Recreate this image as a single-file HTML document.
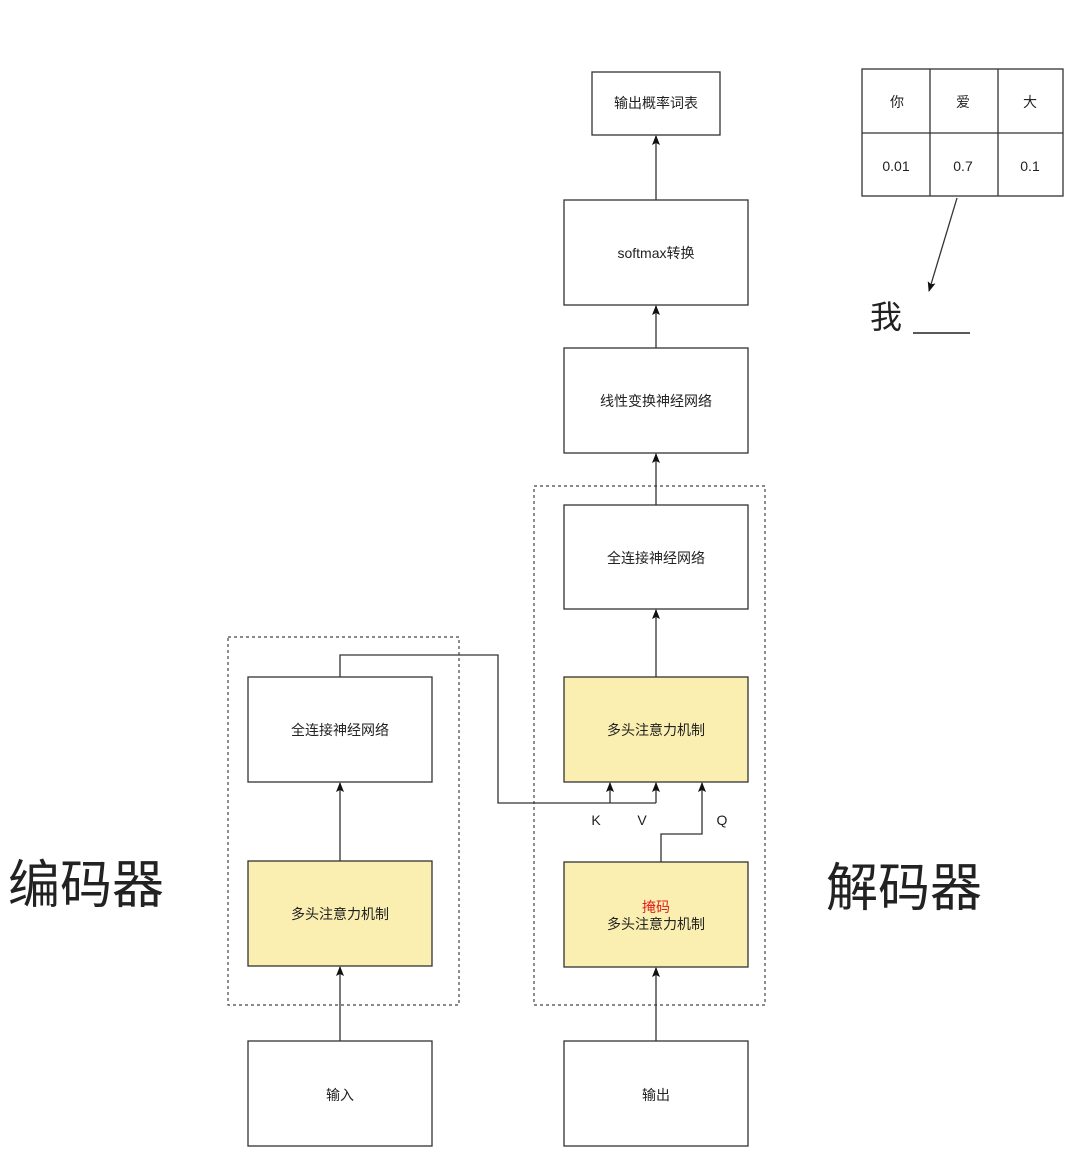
<!DOCTYPE html>
<html><head><meta charset="utf-8"><style>
html,body{margin:0;padding:0;background:#fff;}
svg text{font-family:"Liberation Sans","Noto Sans CJK SC",sans-serif;fill:#222;}
</style></head><body>
<svg width="1080" height="1166" viewBox="0 0 1080 1166" xmlns="http://www.w3.org/2000/svg">
<defs>
<marker id="b" markerWidth="10" markerHeight="10" refX="9" refY="5" orient="auto" markerUnits="userSpaceOnUse" viewBox="0 0 10 10"><path d="M0,1 L10,5 L0,9 L2,5 Z" fill="#111"/></marker></defs>
<g fill="none" stroke="#444" stroke-width="1.2" stroke-dasharray="3,3">
<rect x="228" y="637" width="231" height="368"/>
<rect x="534" y="486" width="231" height="519"/>
</g>
<g stroke="#333" stroke-width="1.3">
<rect x="592" y="72" width="128" height="63" fill="#fff"/>
<rect x="564" y="200" width="184" height="105" fill="#fff"/>
<rect x="564" y="348" width="184" height="105" fill="#fff"/>
<rect x="564" y="505" width="184" height="104" fill="#fff"/>
<rect x="564" y="677" width="184" height="105" fill="#faeeb0"/>
<rect x="564" y="862" width="184" height="105" fill="#faeeb0"/>
<rect x="564" y="1041" width="184" height="105" fill="#fff"/>
<rect x="248" y="677" width="184" height="105" fill="#fff"/>
<rect x="248" y="861" width="184" height="105" fill="#faeeb0"/>
<rect x="248" y="1041" width="184" height="105" fill="#fff"/>
</g>
<g stroke="#333" stroke-width="1.3" fill="none">
<line x1="656" y1="200" x2="656" y2="136" marker-end="url(#b)"/>
<line x1="656" y1="348" x2="656" y2="306" marker-end="url(#b)"/>
<line x1="656" y1="505" x2="656" y2="454" marker-end="url(#b)"/>
<line x1="656" y1="677" x2="656" y2="610" marker-end="url(#b)"/>
<line x1="656" y1="1041" x2="656" y2="968" marker-end="url(#b)"/>
<line x1="340" y1="861" x2="340" y2="783" marker-end="url(#b)"/>
<line x1="340" y1="1041" x2="340" y2="967" marker-end="url(#b)"/>
<polyline points="340,677 340,655 498,655 498,803 656,803"/>
<line x1="610" y1="803" x2="610" y2="783" marker-end="url(#b)"/>
<line x1="656" y1="803" x2="656" y2="783" marker-end="url(#b)"/>
<polyline points="661,862 661,834 702,834 702,783" marker-end="url(#b)"/>
<line x1="957" y1="198" x2="929" y2="291" marker-end="url(#b)"/>
</g>
<g font-size="14" text-anchor="middle">
<text x="656" y="108">输出概率词表</text>
<text x="656" y="258">softmax转换</text>
<text x="656" y="406">线性变换神经网络</text>
<text x="656" y="563">全连接神经网络</text>
<text x="656" y="735">多头注意力机制</text>
<text x="656" y="912" style="fill:#e02020">掩码</text>
<text x="656" y="929">多头注意力机制</text>
<text x="656" y="1100">输出</text>
<text x="340" y="735">全连接神经网络</text>
<text x="340" y="919">多头注意力机制</text>
<text x="340" y="1100">输入</text>
<text x="596" y="825">K</text>
<text x="642" y="825">V</text>
<text x="722" y="825">Q</text>
</g>
<g stroke="#333" stroke-width="1.3" fill="#fff">
<rect x="862" y="69" width="201" height="127"/>
<line x1="930" y1="69" x2="930" y2="196"/>
<line x1="998" y1="69" x2="998" y2="196"/>
<line x1="862" y1="133" x2="1063" y2="133"/>
</g>
<g font-size="14" text-anchor="middle">
<text x="897" y="107">你</text><text x="963" y="107">爱</text><text x="1030" y="107">大</text>
<text x="896" y="171">0.01</text><text x="963" y="171">0.7</text><text x="1030" y="171">0.1</text>
</g>
<text x="870" y="328" font-size="32">我</text>
<line x1="913" y1="333" x2="970" y2="333" stroke="#222" stroke-width="1.5"/>
<text x="8" y="903" font-size="52">编码器</text>
<text x="826" y="906" font-size="52">解码器</text>
</svg>
</body></html>
